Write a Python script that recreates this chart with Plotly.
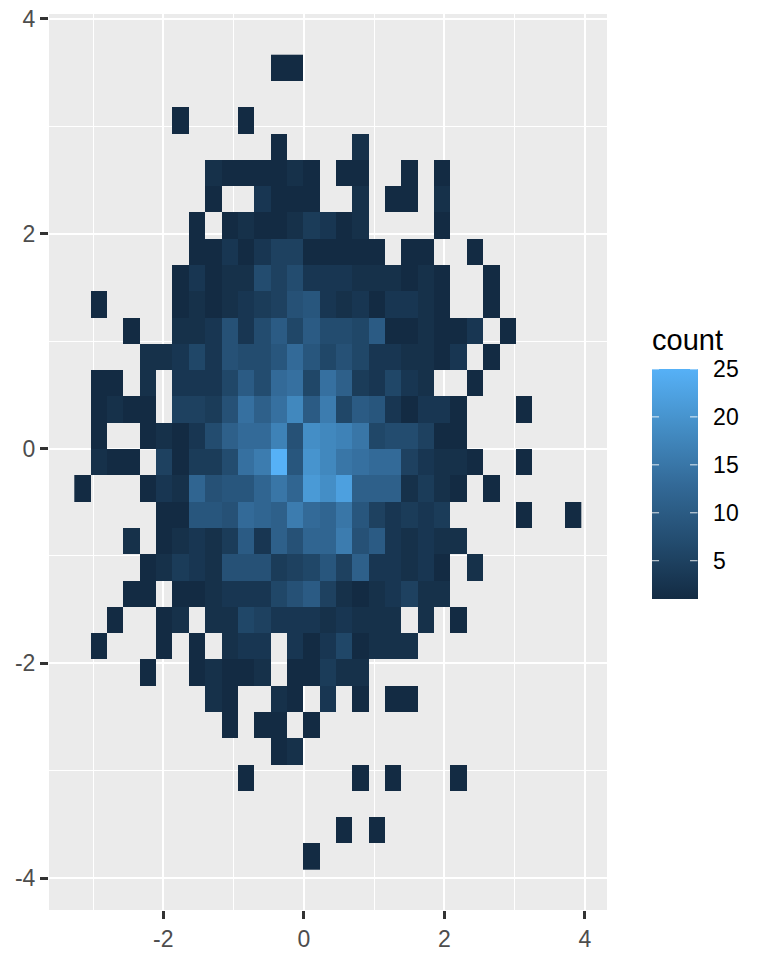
import plotly.graph_objects as go

_ = None
# bin grid
x_first_edge = -3.267
x_bin_width = 0.2326
y_top_edge = 3.666
y_bin_height = 0.2446
n_cols = 31

# first filled column of each row, top row first
row_starts = [12, 0, 6, 12, 8, 8, 7, 7, 6, 1, 3, 4, 1, 1, 1, 1,
              0, 5, 3, 4, 3, 2, 1, 4, 8, 9, 12, 10, 0, 16, 14]
# counts in each row, from that first column onward
row_counts = [
    [1, 1],
    [],
    [1, _, _, _, 1],
    [1, _, _, _, _, 2],
    [2, 1, 1, 1, 1, 2, 1, _, 1, 1, _, _, 1, _, 1],
    [1, _, _, 3, 1, 1, 1, _, _, 2, _, 1, 1, _, 2],
    [1, _, 1, 2, 1, 1, 2, 4, 3, 1, 2, _, _, _, _, 1],
    [1, 1, 3, 1, 3, 5, 5, 1, 1, 1, 1, 1, _, 1, 1, _, _, 1],
    [1, 3, 1, 2, 2, 7, 5, 7, 3, 3, 3, 2, 2, 2, 1, 2, 1, _, _, 1],
    [1, _, _, _, _, 1, 2, 1, 2, 3, 4, 5, 8, 9, 3, 2, 3, 1, 3, 3, 2, 1, _, _, 1],
    [1, _, _, 2, 2, 3, 8, 3, 7, 10, 6, 10, 7, 7, 6, 10, 1, 1, 2, 1, 1, 3, _, 1],
    [2, 2, 3, 6, 3, 8, 7, 7, 9, 13, 9, 6, 8, 6, 3, 3, 2, 2, 1, 3, _, 1],
    [1, 1, _, 2, _, 3, 3, 3, 6, 10, 7, 13, 14, 6, 14, 11, 4, 3, 6, 3, 2, _, _, 1],
    [1, 2, 1, 1, _, 5, 5, 4, 8, 14, 11, 14, 18, 10, 16, 6, 10, 9, 3, 1, 3, 3, 1, _, _, _, 1],
    [1, _, _, 1, 2, 1, 3, 7, 11, 13, 13, 17, 8, 19, 18, 17, 15, 6, 7, 7, 5, 1, 1],
    [2, 1, 1, _, 5, 1, 4, 4, 7, 14, 16, 25, 9, 20, 18, 15, 14, 13, 13, 5, 3, 2, 2, 1, _, _, 1],
    [1, _, _, _, 1, 3, 2, 12, 8, 9, 9, 12, 15, 12, 21, 19, 22, 11, 11, 11, 2, 4, 2, 1, _, 1],
    [1, 1, 9, 9, 8, 13, 12, 11, 16, 13, 12, 15, 9, 5, 3, 4, 3, 4, _, _, _, _, 1, _, _, 1],
    [2, _, 1, 2, 3, 2, 4, 10, 3, 11, 8, 12, 12, 16, 8, 10, 3, 2, 3, 2, 2],
    [1, 2, 4, 3, 2, 8, 8, 8, 4, 5, 6, 9, 5, 11, 3, 3, 2, 3, 1, _, 2],
    [1, 1, _, 1, 1, 2, 3, 3, 3, 6, 8, 10, 5, 2, 1, 2, 3, 5, 2, 2],
    [1, _, _, 1, 2, _, 2, 2, 6, 5, 3, 3, 3, 2, 3, 2, 2, 2, _, 2, _, 1],
    [1, _, _, _, 1, _, 1, _, 2, 3, 3, _, 3, 1, 3, 6, 1, 2, 2, 2],
    [1, _, _, 1, 2, 1, 1, 2, _, 1, 1, 4, 2, 2],
    [2, 1, _, _, 2, 1, _, 3, _, 1, _, 1, 1],
    [1, _, 1, 1, _, 1],
    [1, 2],
    [1, _, _, _, _, _, _, 1, _, 1, _, _, _, 1],
    [],
    [1, _, 1],
    [1],
]

x_tick_values = [-2, 0, 2, 4]
x_tick_labels = ["-2", "0", "2", "4"]
y_tick_values = [-4, -2, 0, 2, 4]
y_tick_labels = ["-4", "-2", "0", "2", "4"]
legend_ticks = [5, 10, 15, 20, 25]
legend_title = "count"
count_min, count_max = 1, 25

z = []
for start, vals in zip(row_starts, row_counts):
    row = [None] * n_cols
    row[start:start + len(vals)] = vals
    z.append(row)

scale = [[0, "#132B43"], [0.25, "#234C6F"], [0.5, "#336A98"], [0.75, "#448EC6"], [1, "#56B1F7"]]
FONT = "Liberation Sans"

# panel rectangle in pixels
P_L, P_R, P_T, P_B = 49.0, 607.4, 14.3, 909.7
to_x = lambda px: (px - P_L) / (P_R - P_L)
to_y = lambda py: (P_B - py) / (P_B - P_T)
bar_l, bar_r, bar_top, bar_bottom = 652.0, 698.0, 369.0, 599.0

fig = go.Figure(go.Heatmap(
    z=z,
    x0=x_first_edge + x_bin_width / 2, dx=x_bin_width,
    y0=y_top_edge - y_bin_height / 2, dy=-y_bin_height,
    zmin=count_min, zmax=count_max, colorscale=scale, hoverongaps=False,
    colorbar=dict(
        tickmode="array", tickvals=legend_ticks, ticktext=[str(v) for v in legend_ticks],
        ticks="outside", ticklen=11, tickwidth=1, tickcolor="rgba(255,255,255,0)",
        tickfont=dict(family=FONT, size=23, color="#000000"),
        lenmode="pixels", len=bar_bottom - bar_top, thicknessmode="pixels", thickness=bar_r - bar_l,
        x=to_x(bar_l), xref="paper", xanchor="left", xpad=0,
        y=to_y(bar_top), yref="paper", yanchor="top", ypad=0,
        outlinewidth=0, borderwidth=0,
    ),
))

# legend title, then white legend ticks on both inner edges of the bar
# (annotations are the only layer that sits above a colorbar)
annotations = [dict(text=legend_title, xref="paper", yref="paper",
                    x=to_x(bar_l), y=to_y(358), xanchor="left", yanchor="bottom",
                    showarrow=False, xshift=-2,
                    font=dict(family=FONT, size=29, color="#000000"))]
for v in legend_ticks:
    py = bar_bottom - (v - count_min) / (count_max - count_min) * (bar_bottom - bar_top)
    for start_px, offset in ((bar_l, 9), (bar_r, -9)):
        annotations.append(dict(text="", xref="paper", yref="paper",
                                x=to_x(start_px), y=to_y(py),
                                showarrow=True, arrowhead=0, arrowwidth=1,
                                arrowcolor="rgba(255,255,255,0.85)",
                                ax=offset, ay=0, axref="pixel", ayref="pixel",
                                standoff=0, startstandoff=0))

axis_common = dict(
    automargin=False,
    showgrid=True, gridcolor="#FFFFFF", gridwidth=2.2, zeroline=False, showline=False,
    ticks="outside", ticklen=8, tickwidth=2.5, tickcolor="#333333",
    tickfont=dict(family=FONT, size=23, color="#4D4D4D"),
    tickmode="array",
    minor=dict(tickmode="array", showgrid=True, gridcolor="#FFFFFF", gridwidth=1.1, ticks=""),
)
fig.update_xaxes(axis_common, range=[(P_L - 304) / 70.3, (P_R - 304) / 70.3],
                 tickvals=x_tick_values, ticktext=x_tick_labels, minor_tickvals=[-3, -1, 1, 3])
fig.update_yaxes(axis_common, range=[-4.296, 4.045],
                 tickvals=y_tick_values, ticktext=y_tick_labels, minor_tickvals=[-3, -1, 1, 3])
fig.update_layout(
    width=768, height=960, autosize=False,
    margin=dict(l=P_L, r=768 - P_R, t=P_T, b=960 - P_B, pad=0),
    plot_bgcolor="#EBEBEB", paper_bgcolor="#FFFFFF", annotations=annotations,
)
fig.write_html("out.html", post_script="document.body.style.margin='0';",
               config={"displayModeBar": False})
